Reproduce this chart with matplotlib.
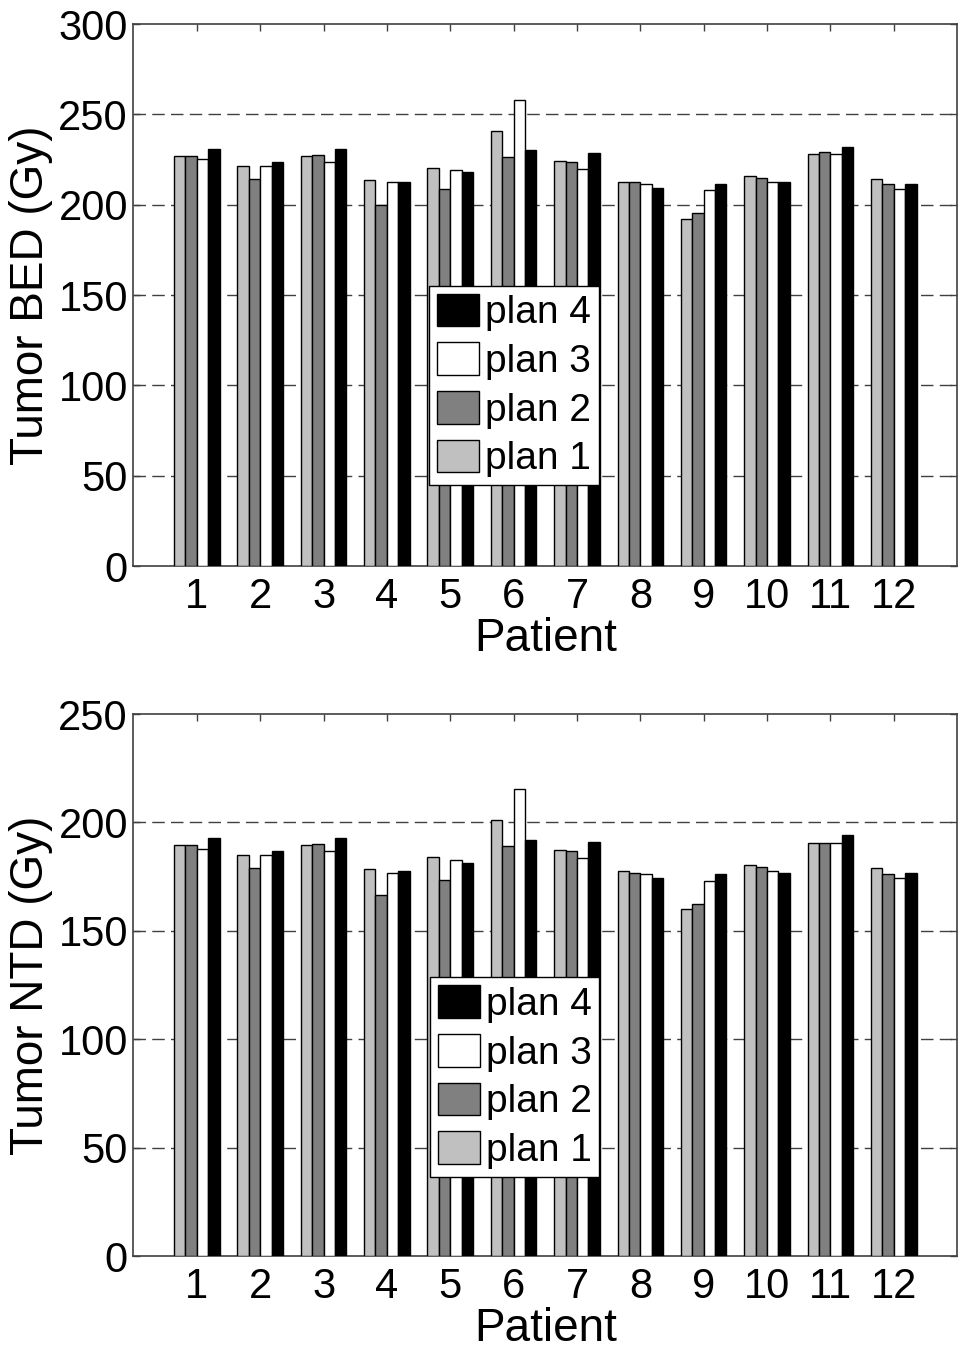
import numpy as np
import matplotlib
matplotlib.use("Agg")
import matplotlib.pyplot as plt

plt.rcParams['font.family'] = ['Liberation Sans', 'DejaVu Sans']

# data
patients = np.arange(1, 13)
plan_labels = ['plan 1', 'plan 2', 'plan 3', 'plan 4']
plan_colors = ['#c0c0c0', '#808080', '#ffffff', '#000000']

bed_plan1 = [226.7, 221.6, 226.7, 213.7, 220.3, 240.6, 224.2, 212.4, 191.9, 215.7, 228.2, 214.3]
bed_plan2 = [226.7, 214.4, 227.6, 200.0, 208.6, 226.2, 223.6, 212.4, 195.2, 215.0, 228.9, 211.2]
bed_plan3 = [225.4, 221.6, 223.6, 212.4, 219.0, 257.7, 219.6, 211.2, 207.9, 212.4, 228.2, 208.6]
bed_plan4 = [230.9, 223.8, 230.9, 212.4, 217.9, 230.2, 228.4, 209.1, 211.2, 212.4, 232.2, 211.7]

ntd_plan1 = [189.4, 185.1, 189.4, 178.5, 184.0, 201.1, 187.3, 177.4, 160.3, 180.2, 190.6, 179.0]
ntd_plan2 = [189.4, 179.1, 190.2, 166.3, 173.6, 189.1, 186.8, 176.8, 162.5, 179.6, 190.6, 176.3]
ntd_plan3 = [187.9, 185.1, 186.8, 176.8, 182.9, 215.4, 183.4, 176.3, 173.0, 177.4, 190.6, 174.2]
ntd_plan4 = [192.9, 186.9, 192.9, 177.4, 181.4, 191.9, 190.8, 174.6, 176.3, 176.8, 194.0, 176.8]

TICK_FS = 30
LABEL_FS = 33
LEG_FS = 28
AXCOL = '#404040'


def draw_panel(ax, series, ylabel, ymax, legend_anchor):
    bw = 0.18
    offsets = (np.arange(4) - 1.5) * bw
    handles = []
    for vals, off, col, lab in zip(series, offsets, plan_colors, plan_labels):
        h = ax.bar(patients + off, vals, width=bw, color=col, edgecolor='black',
                   linewidth=1.0, label=lab, zorder=3)
        handles.append(h)

    ax.set_xlim(0, 13)
    ax.set_ylim(0, ymax)
    ax.set_xticks(patients)
    ax.set_yticks(np.arange(0, ymax + 1, 50))
    ax.tick_params(direction='in', length=5, width=1, color=AXCOL,
                   top=True, right=True, labelsize=TICK_FS)
    ax.tick_params(axis='x', pad=8)
    ax.tick_params(axis='y', pad=4)
    for s in ax.spines.values():
        s.set_color(AXCOL)
        s.set_linewidth(1.2)

    for yv in np.arange(50, ymax, 50):
        ax.axhline(yv, color=AXCOL, linewidth=1.0, dashes=(9, 4.5), zorder=1)

    ax.set_xlabel('Patient', fontsize=LABEL_FS, labelpad=0)
    ax.set_ylabel(ylabel, fontsize=LABEL_FS, labelpad=4)

    leg = ax.legend(handles[::-1], plan_labels[::-1], loc='upper left',
                    bbox_to_anchor=legend_anchor, fontsize=LEG_FS, frameon=True,
                    fancybox=False, shadow=False, framealpha=1,
                    handlelength=1.08, handleheight=0.92, handletextpad=0.15,
                    labelspacing=0.28, borderpad=0.2, borderaxespad=0)
    leg.get_frame().set_edgecolor('black')
    leg.get_frame().set_linewidth(1.0)
    leg.set_zorder(5)


fig = plt.figure(figsize=(9.6, 13.49), dpi=100)
ax1 = fig.add_axes([0.139, 0.5804, 0.858, 0.4018])
ax2 = fig.add_axes([0.139, 0.0689, 0.858, 0.4018])

draw_panel(ax1, [bed_plan1, bed_plan2, bed_plan3, bed_plan4],
           'Tumor BED (Gy)', 300, (0.359, 0.517))
draw_panel(ax2, [ntd_plan1, ntd_plan2, ntd_plan3, ntd_plan4],
           'Tumor NTD (Gy)', 250, (0.360, 0.514))

fig.savefig('out.png', dpi=100)
